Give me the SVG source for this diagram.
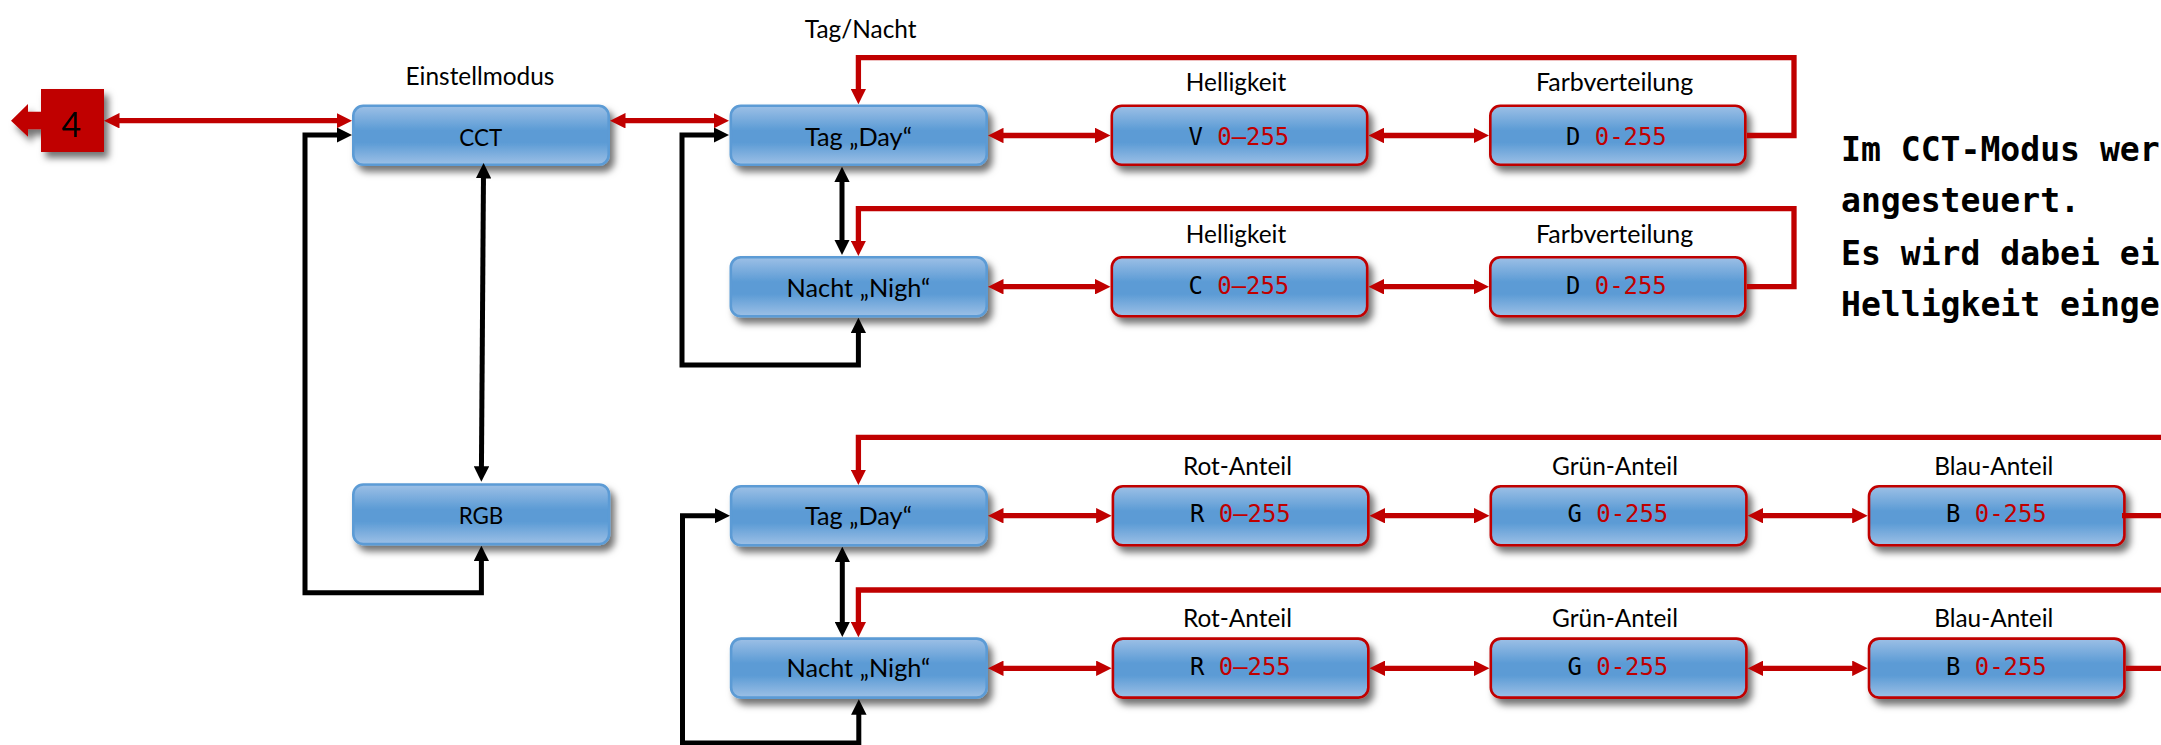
<svg xmlns="http://www.w3.org/2000/svg" width="2161" height="745" viewBox="0 0 2161 745">
<style>
text{font-family:"Lato","Liberation Sans",sans-serif;font-size:24.4px;fill:#000;text-anchor:middle}
.n{font-size:25.3px}
.m{font-size:22.4px}
.f{font-size:25px}
.val{font-family:"DejaVu Sans Mono","Liberation Mono",monospace;font-size:23.9px;text-anchor:start}
.val tspan{fill:#c00000}
.note{font-family:"DejaVu Sans Mono","Liberation Mono",monospace;font-size:33.1px;font-weight:bold;text-anchor:start}
.box{fill:url(#g);stroke:#5b9bd5;stroke-width:2.6;filter:url(#s)}
.r{stroke:#c00000}
.c{fill:none;stroke-miterlimit:10}
.cr{stroke:#c00000;stroke-width:5.3}
.ck{stroke:#000;stroke-width:5}
.both-r{marker-start:url(#hr);marker-end:url(#hr)}
.end-r{marker-end:url(#hr)}
.both-k{marker-start:url(#hk);marker-end:url(#hk)}
</style>
<defs>
<linearGradient id="g" x1="0" y1="0" x2="0" y2="1">
<stop offset="0" stop-color="#9dc0e6"/><stop offset=".42" stop-color="#5b9bd5"/><stop offset=".62" stop-color="#5b9bd5"/><stop offset="1" stop-color="#9dc0e6"/>
</linearGradient>
<filter id="s" x="-10%" y="-20%" width="125%" height="160%">
<feDropShadow dx="4.5" dy="6" stdDeviation="3.5" flood-color="#000" flood-opacity=".55"/>
</filter>
<marker id="hr" viewBox="0 0 15.5 15.5" refX="5.5" refY="7.75" markerWidth="15.5" markerHeight="15.5" markerUnits="userSpaceOnUse" orient="auto-start-reverse"><path d="M0 0L15.5 7.75L0 15.5Z" fill="#c00000"/></marker>
<marker id="hk" viewBox="0 0 15.5 15.5" refX="5.5" refY="7.75" markerWidth="15.5" markerHeight="15.5" markerUnits="userSpaceOnUse" orient="auto-start-reverse"><path d="M0 0L15.5 7.75L0 15.5Z" fill="#000"/></marker>
</defs>
<g id="node-4" filter="url(#s)">
<path d="M11 120.7L28 104V111.7H41V89H104V152H41V129.3H28V136.7Z" fill="#c00000"/>
<text x="71.5" y="136.7" style="font-size:34px">4</text>
</g>
<g id="node-cct"><text x="480" y="85">Einstellmodus</text><rect class="box" x="353.3" y="105.8" width="255.4" height="59" rx="10"/><text class="m" x="480.7" y="145.7">CCT</text></g>
<g id="node-rgb"><rect class="box" x="353.3" y="484.5" width="255.8" height="59.6" rx="10"/><text class="m" x="481" y="524">RGB</text></g>
<g id="node-tag1"><text x="860.7" y="37.7">Tag/Nacht</text><rect class="box" x="730.8" y="105.8" width="255.9" height="59" rx="10"/><text class="n" x="858.4" y="145.7">Tag „Day“</text></g>
<g id="node-nacht1"><rect class="box" x="730.8" y="257.3" width="255.9" height="59" rx="10"/><text class="n" x="858.4" y="296.7">Nacht „Nigh“</text></g>
<g id="node-v"><text x="1236" y="90.7">Helligkeit</text><rect class="box r" x="1111.8" y="105.8" width="255.4" height="59" rx="10"/><text class="val" x="1188.5" y="145">V <tspan>0–255</tspan></text></g>
<g id="node-d1"><text class="f" x="1614.6" y="90.7">Farbverteilung</text><rect class="box r" x="1490.3" y="105.8" width="255" height="59" rx="10"/><text class="val" x="1566" y="145">D <tspan>0-255</tspan></text></g>
<g id="node-c"><text x="1236" y="242.7">Helligkeit</text><rect class="box r" x="1111.8" y="257.3" width="255.4" height="59" rx="10"/><text class="val" x="1188.5" y="293.5">C <tspan>0–255</tspan></text></g>
<g id="node-d2"><text class="f" x="1614.6" y="242.7">Farbverteilung</text><rect class="box r" x="1490.3" y="257.3" width="255" height="59" rx="10"/><text class="val" x="1566" y="293.5">D <tspan>0-255</tspan></text></g>
<g id="node-tag2"><rect class="box" x="731.1" y="486.3" width="255.6" height="59" rx="10"/><text class="n" x="858.4" y="524.7">Tag „Day“</text></g>
<g id="node-nacht2"><rect class="box" x="731.1" y="638.6" width="255.6" height="59" rx="10"/><text class="n" x="858.4" y="677">Nacht „Nigh“</text></g>
<g id="node-r1"><text x="1237.4" y="475">Rot-Anteil</text><rect class="box r" x="1112.9" y="486.3" width="255.4" height="59" rx="10"/><text class="val" x="1190" y="522.3">R <tspan>0–255</tspan></text></g>
<g id="node-g1"><text x="1615" y="475">Grün-Anteil</text><rect class="box r" x="1490.8" y="486.3" width="255.6" height="59" rx="10"/><text class="val" x="1567.5" y="522.3">G <tspan>0-255</tspan></text></g>
<g id="node-b1"><text x="1993.7" y="475">Blau-Anteil</text><rect class="box r" x="1869" y="486.3" width="255.4" height="59" rx="10"/><text class="val" x="1946" y="522.3">B <tspan>0-255</tspan></text></g>
<g id="node-r2"><text x="1237.4" y="627.3">Rot-Anteil</text><rect class="box r" x="1112.9" y="638.6" width="255.4" height="59" rx="10"/><text class="val" x="1190" y="674.6">R <tspan>0–255</tspan></text></g>
<g id="node-g2"><text x="1615" y="627.3">Grün-Anteil</text><rect class="box r" x="1490.8" y="638.6" width="255.6" height="59" rx="10"/><text class="val" x="1567.5" y="674.6">G <tspan>0-255</tspan></text></g>
<g id="node-b2"><text x="1993.7" y="627.3">Blau-Anteil</text><rect class="box r" x="1869" y="638.6" width="255.4" height="59" rx="10"/><text class="val" x="1946" y="674.6">B <tspan>0-255</tspan></text></g>
<g id="connectors" class="c">
<path class="ck both-k" d="M483.5 173L481.4 471.7"/>
<path class="ck both-k" d="M342 135H305V592.7H481.4V555.7"/>
<path class="ck both-k" d="M719 135H682V365H858.4V327.7"/>
<path class="ck both-k" d="M842 176.7V245"/>
<path class="ck both-k" d="M720 515.7H682.5V743H858.8V709.3"/>
<path class="ck both-k" d="M842.3 556.7V627"/>
<path class="cr both-r" d="M114 120.7H342"/>
<path class="cr both-r" d="M620 120.7H719"/>
<path class="cr both-r" d="M998 135.5H1100.5"/>
<path class="cr both-r" d="M1378.5 135.5H1479"/>
<path class="cr both-r" d="M998 286.7H1100.5"/>
<path class="cr both-r" d="M1378.5 286.7H1479"/>
<path class="cr end-r" d="M1747 135.5H1794V57.7H858.4V94.3"/>
<path class="cr end-r" d="M1747 286.7H1794V208.7H858.4V246"/>
<path class="cr end-r" d="M2161 437.3H858.4V475"/>
<path class="cr end-r" d="M2161 590H858.4V627.3"/>
<path class="cr" d="M2122 515.7H2161"/>
<path class="cr" d="M2126 668.3H2161"/>
<path class="cr both-r" d="M998 515.7H1101.6"/>
<path class="cr both-r" d="M1379.6 515.7H1479.5"/>
<path class="cr both-r" d="M1757.7 515.7H1857.7"/>
<path class="cr both-r" d="M998 668.3H1101.6"/>
<path class="cr both-r" d="M1379.6 668.3H1479.5"/>
<path class="cr both-r" d="M1757.7 668.3H1857.7"/>
</g>
<g id="note">
<text class="note" x="1841" y="160.7">Im CCT-Modus wer</text>
<text class="note" x="1841" y="212">angesteuert.</text>
<text class="note" x="1841" y="265">Es wird dabei ei</text>
<text class="note" x="1841" y="316">Helligkeit einge</text>
</g>
</svg>
